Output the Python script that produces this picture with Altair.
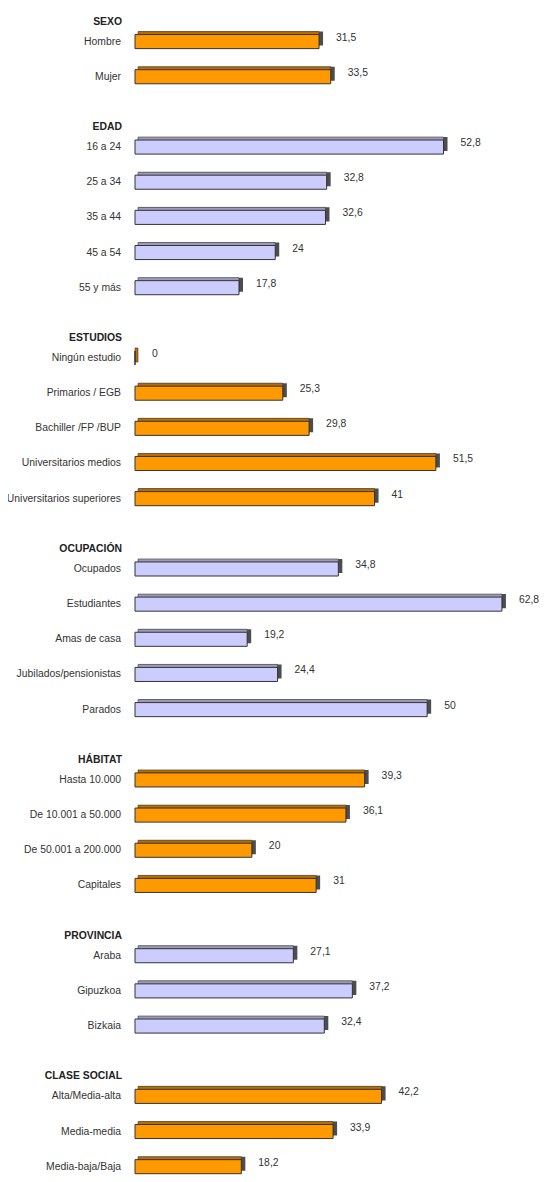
import pandas as pd
import altair as alt

# groups and their rows, top to bottom
groups = ["SEXO", "EDAD", "ESTUDIOS", "OCUPACIÓN", "HÁBITAT", "PROVINCIA", "CLASE SOCIAL"]

sexo = ["Hombre", "Mujer"]
sexo_values = [31.5, 33.5]

edad = ["16 a 24", "25 a 34", "35 a 44", "45 a 54", "55 y más"]
edad_values = [52.8, 32.8, 32.6, 24, 17.8]

estudios = ["Ningún estudio", "Primarios / EGB", "Bachiller /FP /BUP",
            "Universitarios medios", "Universitarios superiores"]
estudios_values = [0, 25.3, 29.8, 51.5, 41]

ocupacion = ["Ocupados", "Estudiantes", "Amas de casa", "Jubilados/pensionistas", "Parados"]
ocupacion_values = [34.8, 62.8, 19.2, 24.4, 50]

habitat = ["Hasta 10.000", "De 10.001 a 50.000", "De 50.001 a 200.000", "Capitales"]
habitat_values = [39.3, 36.1, 20, 31]

provincia = ["Araba", "Gipuzkoa", "Bizkaia"]
provincia_values = [27.1, 37.2, 32.4]

clase = ["Alta/Media-alta", "Media-media", "Media-baja/Baja"]
clase_values = [42.2, 33.9, 18.2]

items = [sexo, edad, estudios, ocupacion, habitat, provincia, clase]
values = [sexo_values, edad_values, estudios_values, ocupacion_values,
          habitat_values, provincia_values, clase_values]

# one row slot per item, one empty slot between groups
rows, heads = [], []
slot = 0
for g, (name, labels, vals) in enumerate(zip(groups, items, values)):
    if g > 0:
        slot += 1
    heads.append({"group": name, "slot": slot})
    for lab, v in zip(labels, vals):
        rows.append({"group": name, "label": lab, "value": v, "slot": slot,
                     "tone": "naranja" if g % 2 == 0 else "lila",
                     "text": f"{v:g}".replace(".", ",")})
        slot += 1

df = pd.DataFrame(rows)
df_head = pd.DataFrame(heads)

FONT = "Liberation Sans"
x_scale = alt.Scale(domain=[0, 70])
y_scale = alt.Scale(domain=list(range(slot)), paddingInner=0.6)
x_enc = alt.X("value:Q", scale=x_scale, axis=None)
y_enc = alt.Y("slot:O", scale=y_scale, axis=None)

base = alt.Chart(df)

# dark side face
side = base.mark_bar(color="#4d4d4d", xOffset=4, x2Offset=4, yOffset=-3, y2Offset=-3).encode(
    x=x_enc, x2=alt.datum(0), y=y_enc
)

# top face
top = base.mark_bar(xOffset=0, x2Offset=3, yOffset=-3, y2Offset=-3,
                    stroke="#3a3a3a", strokeWidth=0.6).encode(
    x=x_enc, x2=alt.datum(0), y=y_enc,
    color=alt.Color("tone:N", legend=None,
                    scale=alt.Scale(domain=["naranja", "lila"], range=["#B86E00", "#9C9CB8"]))
)

# front face
front = base.mark_bar(stroke="#333333", strokeWidth=1).encode(
    x=x_enc, x2=alt.datum(0), y=y_enc,
    color=alt.Color("tone:N", legend=None,
                    scale=alt.Scale(domain=["naranja", "lila"], range=["#FF9900", "#CCCCFF"])),
    tooltip=["group", "label", "value"]
)

labels = base.mark_text(align="right", baseline="middle", font=FONT, fontSize=10.4,
                        color="#333333").encode(
    x=alt.value(-14), y=y_enc, text="label:N"
)

value_labels = base.mark_text(align="left", baseline="middle", font=FONT, fontSize=10.4,
                              color="#333333", dx=17, dy=-4).encode(
    x=x_enc, y=y_enc, text="text:N"
)

headers = alt.Chart(df_head).mark_text(align="right", baseline="middle", font=FONT,
                                       fontSize=10.4, fontWeight="bold", color="#222222",
                                       dy=-20).encode(
    x=alt.value(-13), y=y_enc, text="group:N"
)

chart = alt.layer(side, top, front, labels, value_labels, headers).resolve_scale(
    color="independent"
).properties(
    width=409,
    height=alt.Step(35.16),
    padding={"left": 127, "top": 16, "right": 0, "bottom": 0},
    autosize=alt.AutoSizeParams(type="none"),
    background="white",
).configure_view(stroke=None)

chart.save("out.html", embed_options={"renderer": "svg", "actions": False})
